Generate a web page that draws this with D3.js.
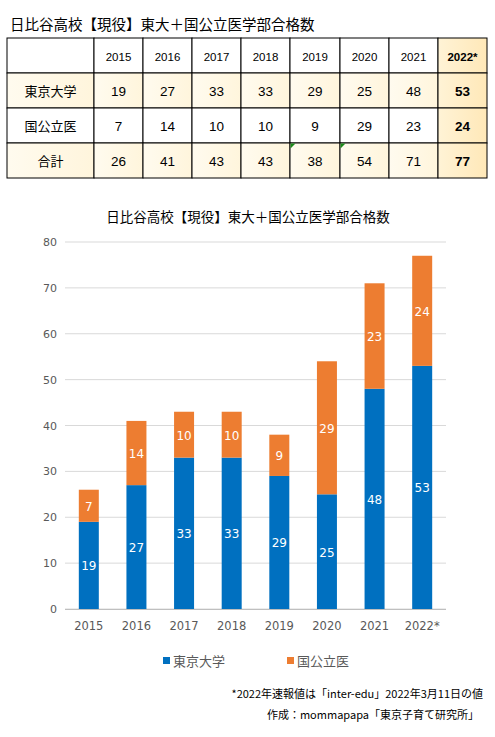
<!DOCTYPE html><html><head><meta charset="utf-8">
<script src="https://cdn.jsdelivr.net/npm/d3@7"></script>
<style>body{margin:0;background:#fff}svg{display:block}</style></head><body>
<script>
const years=["2015","2016","2017","2018","2019","2020","2021","2022*"];
const todai=[19,27,33,33,29,25,48,53];
const kokui=[7,14,10,10,9,29,23,24];
const total=[26,41,43,43,38,54,71,77];
const rowNames=["東京大学","国公立医","合計"];
const yTicks=[0,10,20,30,40,50,60,70,80];
const F="'Noto Sans CJK JP','Noto Sans',sans-serif";
const svg=d3.select("body").append("svg").attr("width",495).attr("height",737);
const defs=svg.append("defs");
const g1=defs.append("linearGradient").attr("id","cr");g1.append("stop").attr("offset","0").attr("stop-color","#fffbef");g1.append("stop").attr("offset","1").attr("stop-color","#fff5dc");
const g2=defs.append("linearGradient").attr("id","hl");g2.append("stop").attr("offset","0").attr("stop-color","#fff3d6");g2.append("stop").attr("offset","1").attr("stop-color","#ffe8b8");
svg.append("text").attr("x",10).attr("y",30).attr("font-family",F).attr("font-size",14.5).attr("fill","#000").text("日比谷高校【現役】東大＋国公立医学部合格数");
// table
const colX=[7,94,143,192,241,290,340,389,438,487];
const rowY=[38,73,108,143,178];
const tbl=svg.append("g");
const rowsData=[todai,kokui,total];
for(let r=0;r<4;r++)for(let c=0;c<9;c++){
  let fill="#fff";
  if(r===1||r===3)fill="url(#cr)";
  if(c===8)fill="url(#hl)";
  tbl.append("rect").attr("x",colX[c]).attr("y",rowY[r]).attr("width",colX[c+1]-colX[c]).attr("height",rowY[r+1]-rowY[r]).attr("fill",fill).attr("stroke","#000").attr("stroke-width",1);
  let t=null,fs=13,bold=c===8;
  if(r===0&&c>0){t=years[c-1];fs=11.5;}
  else if(r>0&&c===0){t=rowNames[r-1];fs=13;bold=false;}
  else if(r>0){t=rowsData[r-1][c-1];fs=13.5;}
  if(t!==null)tbl.append("text").attr("x",(colX[c]+colX[c+1])/2).attr("y",(rowY[r]+rowY[r+1])/2+5).attr("text-anchor","middle").attr("font-family",c===0?F:"'Liberation Sans',Arial,sans-serif").attr("font-size",fs).attr("font-weight",bold?"bold":"normal").text(t);
}
[5,6].forEach(c=>tbl.append("path").attr("d",`M${colX[c]+0.5},${rowY[3]+0.5}h5l-5,5z`).attr("fill","#1a8a1a"));
// chart
svg.append("text").attr("x",248).attr("y",222).attr("text-anchor","middle").attr("font-family",F).attr("font-size",13.5).attr("fill","#000").text("日比谷高校【現役】東大＋国公立医学部合格数");
const x=d3.scaleBand().domain(years).range([65,446]).paddingInner(0.58).paddingOuter(0.29);
const y=d3.scaleLinear().domain([0,80]).range([609,242]);
const ga=svg.append("g");
yTicks.forEach(v=>{
  ga.append("line").attr("x1",65).attr("x2",446).attr("y1",y(v)).attr("y2",y(v)).attr("stroke","#d9d9d9");
  ga.append("text").attr("x",57).attr("y",y(v)+4).attr("text-anchor","end").attr("font-family","'DejaVu Sans',sans-serif").attr("font-size",11).attr("fill","#595959").text(v);
});
years.forEach((yr,i)=>{
  const bx=x(yr),bw=x.bandwidth();
  svg.append("rect").attr("x",bx).attr("y",y(todai[i])).attr("width",bw).attr("height",y(0)-y(todai[i])).attr("fill","#0070c0");
  svg.append("rect").attr("x",bx).attr("y",y(total[i])).attr("width",bw).attr("height",y(todai[i])-y(total[i])).attr("fill","#ed7d31");
  svg.append("text").attr("x",bx+bw/2).attr("y",y(todai[i]/2)+5).attr("text-anchor","middle").attr("font-family","'DejaVu Sans',sans-serif").attr("font-size",12).attr("fill","#fff").text(todai[i]);
  svg.append("text").attr("x",bx+bw/2).attr("y",y(todai[i]+kokui[i]/2)+5).attr("text-anchor","middle").attr("font-family","'DejaVu Sans',sans-serif").attr("font-size",12).attr("fill","#fff").text(kokui[i]);
  svg.append("text").attr("x",bx+bw/2).attr("y",630).attr("text-anchor","middle").attr("font-family","'DejaVu Sans',sans-serif").attr("font-size",11.5).attr("fill","#595959").text(yr);
});
svg.append("line").attr("x1",65).attr("x2",446).attr("y1",609.5).attr("y2",609.5).attr("stroke","#bfbfbf");
// legend
svg.append("rect").attr("x",163).attr("y",657).attr("width",7).attr("height",7).attr("fill","#0070c0");
svg.append("text").attr("x",173).attr("y",666).attr("font-family",F).attr("font-size",13).attr("fill","#595959").text("東京大学");
svg.append("rect").attr("x",287).attr("y",657).attr("width",7).attr("height",7).attr("fill","#ed7d31");
svg.append("text").attr("x",297).attr("y",666).attr("font-family",F).attr("font-size",13).attr("fill","#595959").text("国公立医");
svg.append("text").attr("x",483).attr("y",698).attr("text-anchor","end").attr("font-family",F).attr("font-size",11).text("*2022年速報値は「inter-edu」2022年3月11日の値");
svg.append("text").attr("x",479).attr("y",719).attr("text-anchor","end").attr("font-family",F).attr("font-size",11).text("作成：mommapapa「東京子育て研究所」");
</script></body></html>
